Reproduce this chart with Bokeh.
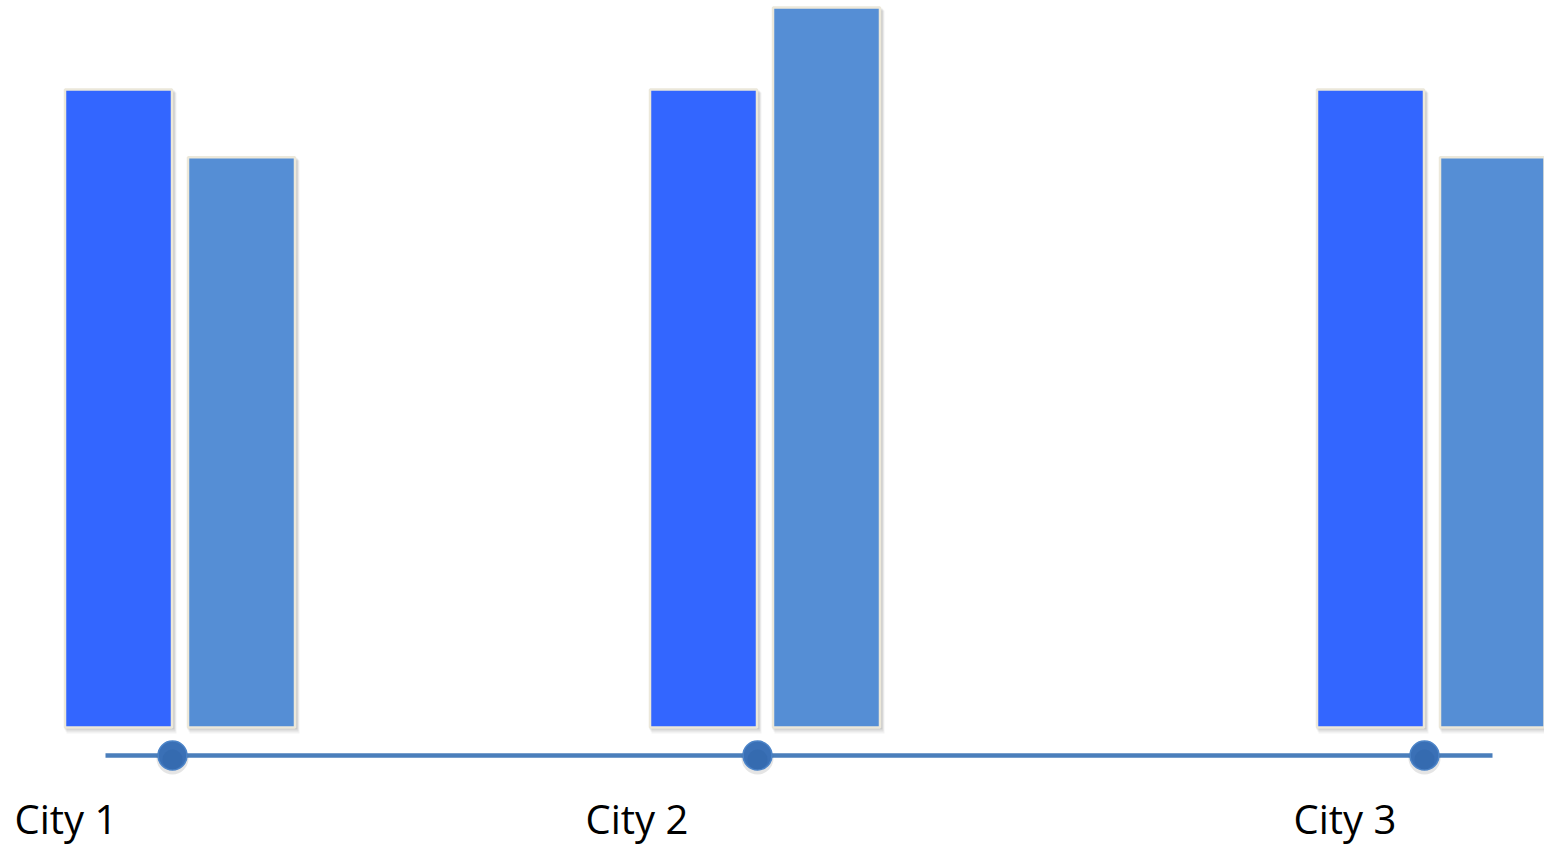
from bokeh.plotting import figure
from bokeh.models import Range1d, ColumnDataSource
from bokeh.core.properties import value
from bokeh.embed import file_html
from bokeh.resources import INLINE

# data
cities = ["City 1", "City 2", "City 3"]
series_a = [88.6, 88.6, 88.6]
series_b = [79.2, 100.0, 79.2]

# layout (pixels along the timeline)
city_x = [172, 757, 1424]
label_x = [14, 585, 1293]
bar_w = 108
gap = 15
px_per_unit = 7.2
base_px = 727  # pixel row of the bar baseline
W, H = 1544, 846

p = figure(width=W, height=H, output_backend="svg", toolbar_location=None,
           x_range=Range1d(0, W),
           y_range=Range1d(-(H - base_px) / px_per_unit, base_px / px_per_unit),
           min_border=0, outline_line_color=None, background_fill_color="white",
           border_fill_color="white")
p.axis.visible = False
p.grid.visible = False

a_x = [c - bar_w / 2 for c in city_x]
b_x = [c + gap + bar_w / 2 for c in city_x]

# soft drop shadows behind the bars
for off, alpha in [(3.0, 0.05), (2.0, 0.07), (1.0, 0.09)]:
    dy = off / px_per_unit
    for xs, vals in [(a_x, series_a), (b_x, series_b)]:
        p.quad(left=[x - bar_w / 2 + off - 1 for x in xs],
               right=[x + bar_w / 2 + off + 1 for x in xs],
               top=[v - dy for v in vals],
               bottom=[-dy - off / px_per_unit for _ in vals],
               fill_color="black", fill_alpha=alpha, line_color=None)

src = ColumnDataSource(dict(city=cities, ax=a_x, bx=b_x, a=series_a, b=series_b))
p.vbar(x="ax", top="a", bottom=0, width=bar_w - 1, source=src,
       fill_color="#3366FF", line_color="#ECE8DA", line_width=2.5)
p.vbar(x="bx", top="b", bottom=0, width=bar_w - 1, source=src,
       fill_color="#558ED5", line_color="#ECE8DA", line_width=2.5)

# timeline
line_y = -(755 - base_px) / px_per_unit
p.line(x=[105, 1492], y=[line_y, line_y], line_color="#4A7EBB", line_width=4.5)

# markers with a soft shadow
shadow_y = line_y - 3 / px_per_unit
p.scatter(x=city_x, y=[shadow_y] * 3, size=32, marker="circle",
          fill_color="black", fill_alpha=0.10, line_color=None)
p.scatter(x=city_x, y=[line_y] * 3, size=29, marker="circle",
          fill_color="#3A70B6", line_color="#4C84C8", line_width=1.5)
p.scatter(x=city_x, y=[line_y - 4 / px_per_unit] * 3, size=20, marker="circle",
          fill_color="#2F62A6", fill_alpha=0.35, line_color=None)

# city labels
label_y = -(818 - base_px) / px_per_unit
p.text(x=label_x, y=[label_y] * 3, text=cities,
       text_font=value("Open Sans"), text_font_size="40px",
       text_color="black", text_baseline="middle", text_align="left")

open("out.html", "w").write(file_html(p, INLINE))
